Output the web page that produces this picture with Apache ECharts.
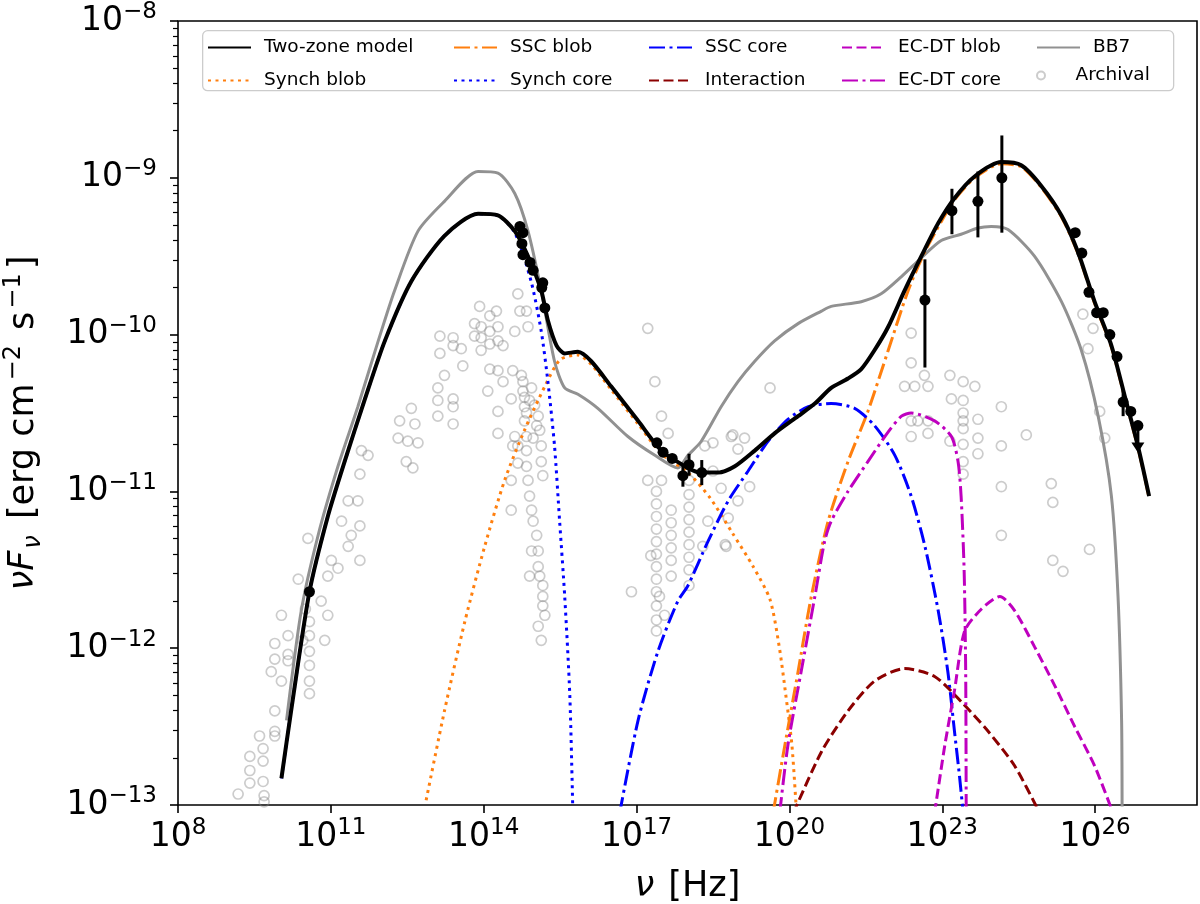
<!DOCTYPE html>
<html>
<head>
<meta charset="utf-8">
<script src="https://cdn.jsdelivr.net/npm/echarts@6/dist/echarts.min.js"></script>
<style>
html, body { margin: 0; padding: 0; background: #fff; }
#echart { width: 1200px; height: 904px; }
</style>
</head>
<body>
<div id="echart"></div>
<script>
// all values are [log10(nu / Hz), log10(nuFnu / erg cm^-2 s^-1)]
var twoZone = [[10.03,-12.83],[10.22,-12.40],[10.58,-11.64],[10.94,-11.16],[11.27,-10.81],[11.66,-10.42],[12.06,-10.04],[12.58,-9.66],[13.23,-9.37],[13.89,-9.23],[14.28,-9.24],[14.61,-9.34],[14.87,-9.50],[15.13,-9.72],[15.26,-9.91],[15.43,-10.07],[15.59,-10.12],[15.85,-10.11],[16.11,-10.17],[16.50,-10.33],[17.03,-10.55],[17.49,-10.74],[18.01,-10.85],[18.27,-10.88],[18.60,-10.88],[18.93,-10.84],[19.32,-10.74],[19.71,-10.63],[20.17,-10.52],[20.50,-10.44],[20.82,-10.34],[21.15,-10.28],[21.41,-10.22],[21.67,-10.10],[21.94,-9.95],[22.26,-9.72],[22.59,-9.50],[22.92,-9.29],[23.24,-9.13],[23.64,-8.99],[24.16,-8.90],[24.55,-8.92],[24.94,-9.05],[25.34,-9.24],[25.66,-9.47],[25.99,-9.79],[26.32,-10.07],[26.58,-10.39],[26.84,-10.71],[27.06,-11.03]];

var bb7 = [[10.13,-12.46],[10.42,-11.76],[10.75,-11.28],[11.14,-10.84],[11.53,-10.46],[11.93,-10.04],[12.25,-9.72],[12.71,-9.34],[13.23,-9.15],[13.89,-8.96],[14.28,-8.97],[14.61,-9.10],[14.87,-9.34],[15.13,-9.72],[15.39,-10.17],[15.59,-10.34],[15.85,-10.38],[16.24,-10.47],[16.83,-10.65],[17.36,-10.77],[17.81,-10.85],[18.01,-10.77],[18.27,-10.68],[18.66,-10.46],[18.99,-10.30],[19.32,-10.17],[19.71,-10.04],[20.17,-9.93],[20.63,-9.85],[20.82,-9.82],[21.41,-9.79],[21.80,-9.74],[22.20,-9.63],[22.59,-9.51],[22.98,-9.40],[23.37,-9.36],[23.70,-9.32],[23.96,-9.31],[24.29,-9.33],[24.81,-9.50],[25.34,-9.79],[25.73,-10.10],[26.06,-10.52],[26.32,-11.03],[26.45,-11.67],[26.52,-12.46],[26.53,-13.10]];

var synchBlob = [[12.87,-12.97],[13.23,-12.40],[13.63,-11.83],[14.02,-11.35],[14.41,-10.93],[14.80,-10.61],[15.20,-10.33],[15.50,-10.16],[15.85,-10.13],[16.11,-10.19],[16.50,-10.35],[17.03,-10.57],[17.49,-10.76],[18.01,-10.88],[18.44,-11.04],[18.89,-11.27],[19.29,-11.48],[19.62,-11.69],[19.80,-11.99],[19.93,-12.30],[20.05,-12.62],[20.14,-13.05]];

var synchCore = [[10.03,-12.83],[10.22,-12.40],[10.58,-11.64],[10.94,-11.16],[11.27,-10.81],[11.66,-10.42],[12.06,-10.04],[12.58,-9.66],[13.23,-9.37],[13.89,-9.23],[14.28,-9.24],[14.61,-9.35],[14.93,-9.66],[15.13,-9.98],[15.26,-10.30],[15.39,-10.71],[15.49,-11.19],[15.59,-11.67],[15.69,-12.30],[15.75,-13.05]];

var sscBlob = [[19.68,-13.05],[19.91,-12.62],[20.17,-12.15],[20.43,-11.67],[20.76,-11.19],[21.15,-10.81],[21.54,-10.49],[21.94,-10.10],[22.33,-9.72],[22.66,-9.47],[22.98,-9.28],[23.24,-9.14],[23.64,-9.00],[24.16,-8.91],[24.55,-8.93],[24.94,-9.06],[25.34,-9.25],[25.66,-9.48],[25.99,-9.80],[26.32,-10.08],[26.58,-10.40],[26.84,-10.72],[27.06,-11.04]];

var sscCore = [[16.67,-13.05],[17.03,-12.46],[17.42,-12.02],[17.81,-11.70],[18.01,-11.60],[18.40,-11.32],[18.80,-11.06],[19.19,-10.87],[19.58,-10.68],[19.97,-10.54],[20.37,-10.46],[20.82,-10.44],[21.28,-10.47],[21.67,-10.58],[22.07,-10.77],[22.39,-11.03],[22.66,-11.35],[22.92,-11.76],[23.11,-12.15],[23.24,-12.53],[23.34,-12.82],[23.41,-13.05]];

var interaction = [[20.08,-13.05],[20.63,-12.66],[21.15,-12.40],[21.67,-12.21],[22.26,-12.13],[22.85,-12.18],[23.37,-12.34],[23.90,-12.53],[24.42,-12.75],[24.91,-13.05]];

var ecdtBlob = [[22.85,-13.05],[23.05,-12.62],[23.24,-12.27],[23.44,-11.89],[23.77,-11.75],[24.13,-11.67],[24.42,-11.76],[24.81,-11.99],[25.21,-12.24],[25.60,-12.50],[25.99,-12.75],[26.35,-13.05]];

var ecdtCore = [[19.81,-13.05],[19.97,-12.62],[20.23,-12.15],[20.50,-11.67],[20.69,-11.32],[20.82,-11.19],[21.15,-11.00],[21.54,-10.81],[21.94,-10.62],[22.20,-10.52],[22.39,-10.50],[22.85,-10.55],[23.18,-10.65],[23.31,-10.81],[23.37,-11.03],[23.43,-11.51],[23.46,-12.15],[23.47,-13.05]];

var dataPoints = [[10.58,-11.64],[14.71,-9.31],[14.77,-9.35],[14.75,-9.42],[14.77,-9.49],[14.91,-9.54],[14.97,-9.59],[15.16,-9.67],[15.14,-9.70],[15.20,-9.83],[17.40,-10.69],[17.52,-10.75],[17.70,-10.79],[17.91,-10.90],[18.03,-10.83],[18.28,-10.88],[22.66,-9.78],[23.19,-9.21],[23.70,-9.15],[24.17,-9.00],[25.61,-9.35],[25.74,-9.48],[25.88,-9.73],[26.03,-9.86],[26.16,-9.86],[26.29,-10.00],[26.43,-10.14],[26.55,-10.43],[26.70,-10.49],[26.84,-10.58]];

// [logNu, logF low, logF high]
var yErrors = [[22.66,-10.21,-9.52],[23.19,-9.36,-9.07],[23.70,-9.38,-8.96],[24.17,-9.35,-8.73],[17.91,-10.97,-10.83],[18.03,-10.90,-10.76],[18.28,-10.96,-10.80],[26.55,-10.52,-10.35],[26.84,-10.72,-10.58]];
// [logF, logNu low, logNu high]
var xErrors = [[-10.90,17.84,17.98],[-10.83,17.96,18.10],[-10.88,18.20,18.36]];
var upperLimits = [[26.84,-10.72]];

var archival = [[9.18,-12.93],[9.41,-12.69],[9.41,-12.78],[9.41,-12.86],[9.60,-12.56],[9.67,-12.64],[9.67,-12.72],[9.67,-12.85],[9.69,-12.94],[9.69,-12.98],[9.90,-12.56],[9.90,-12.53],[9.90,-12.40],[9.83,-12.15],[9.90,-12.07],[9.90,-11.97],[10.03,-11.79],[10.03,-12.21],[10.16,-12.08],[10.16,-12.04],[10.16,-11.92],[10.36,-11.56],[10.55,-11.30],[10.58,-11.83],[10.58,-11.92],[10.58,-12.02],[10.58,-12.11],[10.58,-12.21],[10.58,-12.29],[10.50,-11.75],[10.45,-11.95],[10.88,-11.95],[10.81,-11.70],[10.94,-11.79],[10.94,-11.54],[11.01,-11.44],[11.14,-11.49],[11.34,-11.35],[11.40,-11.28],[11.57,-11.22],[11.57,-11.44],[11.21,-11.19],[11.34,-11.06],[11.53,-11.06],[11.57,-10.89],[11.73,-10.77],[11.60,-10.74],
[12.35,-10.55],[12.32,-10.66],[12.51,-10.68],[12.71,-10.69],[12.65,-10.57],[12.58,-10.47],[12.48,-10.81],[12.61,-10.85],[13.10,-10.52],[13.10,-10.42],[13.10,-10.34],[13.14,-10.01],[13.14,-10.12],[13.23,-10.26],[13.40,-10.02],[13.40,-10.07],[13.40,-10.46],[13.40,-10.41],[13.40,-10.57],[13.56,-10.09],[13.59,-10.20],[13.82,-9.93],[13.82,-10.01],[13.92,-9.82],[13.95,-9.95],[13.95,-10.02],[13.95,-10.10],[14.12,-9.88],[14.12,-9.98],[14.12,-10.06],[14.12,-10.22],[14.25,-9.85],[14.28,-9.95],[14.28,-10.04],[14.28,-10.23],[14.38,-10.30],[14.38,-10.07],[14.08,-10.36],[14.28,-10.49],[14.28,-10.63],[14.54,-10.41],[14.57,-10.23],[14.61,-9.98],[14.71,-9.85],[14.84,-9.85],[14.87,-9.95],[14.67,-9.74],[14.61,-10.65],[14.57,-10.71],
[14.74,-10.26],[14.77,-10.36],[14.80,-10.46],[14.80,-10.55],[14.84,-10.65],[14.84,-10.74],[14.84,-10.84],[14.87,-10.93],[14.90,-11.03],[14.94,-11.12],[15.07,-10.52],[15.10,-10.61],[15.13,-10.71],[15.13,-10.81],[15.16,-10.90],[14.97,-11.19],[15.04,-11.28],[15.07,-11.38],[15.07,-11.48],[15.10,-11.54],[15.16,-11.60],[15.16,-11.67],[15.16,-11.73],[15.20,-11.79],[15.13,-11.95],[14.54,-11.12],[14.54,-10.93],[14.67,-10.82],[14.67,-10.71],[14.90,-11.54],[14.94,-11.38],[15.07,-11.86],[14.77,-10.30],[14.80,-10.40],[14.84,-10.50],[14.90,-10.42],[14.94,-10.34],[15.00,-10.45],[15.04,-10.58],[14.97,-10.66],
[17.22,-9.96],[17.36,-10.30],[16.90,-11.64],[17.39,-11.00],[17.39,-11.08],[17.39,-11.16],[17.39,-11.24],[17.39,-11.32],[17.39,-11.40],[17.39,-11.48],[17.39,-11.56],[17.39,-11.64],[17.39,-11.73],[17.39,-11.82],[17.39,-11.89],[17.68,-11.12],[17.68,-11.20],[17.68,-11.28],[17.68,-11.36],[17.68,-11.44],[17.68,-11.54],[17.28,-11.41],[17.49,-10.93],[17.45,-11.67],[17.55,-11.79],[18.03,-10.93],[18.03,-11.02],[18.03,-11.10],[18.03,-11.18],[18.03,-11.26],[18.03,-11.34],[18.03,-11.42],[18.03,-11.50],[18.03,-11.60],[17.22,-10.93],[18.74,-11.34],[17.49,-10.52],[17.62,-10.63],
[18.34,-10.71],[18.50,-10.87],[18.66,-10.98],[18.86,-10.65],[18.99,-10.73],[19.12,-10.66],[18.80,-11.17],[18.99,-11.06],[19.22,-10.97],[18.76,-11.35],[19.62,-10.34],[18.30,-11.35],[18.40,-11.19],[18.50,-10.69],[18.89,-10.64],
[22.39,-9.99],[22.39,-10.18],[22.65,-10.26],[22.26,-10.33],[22.46,-10.33],[22.72,-10.33],[23.15,-10.26],[23.41,-10.30],[23.64,-10.33],[23.18,-10.41],[23.41,-10.42],[23.41,-10.50],[23.41,-10.55],[23.41,-10.60],[23.41,-10.70],[23.41,-10.81],[23.41,-10.89],[23.70,-10.54],[23.70,-10.66],[23.70,-10.76],[24.16,-10.46],[24.16,-10.71],[24.16,-10.97],[24.16,-11.28],[24.65,-10.64],[25.14,-10.95],[25.17,-11.07],[25.17,-11.44],[25.37,-11.51],[25.89,-11.37],[25.76,-9.87],[25.96,-9.96],[25.86,-10.09],[26.09,-10.49],[26.19,-10.66],[22.39,-10.55],[22.72,-10.55],[22.39,-10.65],[22.72,-10.63],[23.15,-10.68],[22.52,-10.55]];

var xTicks = [8, 11, 14, 17, 20, 23, 26];
var yMinorTicks = [];
for (var n = -13; n < -8; n++) {
  for (var k = 2; k < 10; k++) yMinorTicks.push(n + Math.log10(k));
}

var FONT = 'DejaVu Sans';
var myChart = echarts.init(document.getElementById('echart'));

function powLabel(v) {
  var e = Math.round(v);
  return '{b|10}{s|' + (e < 0 ? '\u2212' + (-e) : e) + '}';
}
var tickRich = {
  b: { fontFamily: FONT, fontSize: 33, lineHeight: 40, color: '#000' },
  s: { fontFamily: FONT, fontSize: 23, lineHeight: 18, verticalAlign: 'top', color: '#000' }
};

function curve(name, data, color, width, dash, z) {
  return {
    name: name, type: 'line', data: data, symbol: 'none', showSymbol: false,
    smooth: 0.25, z: z || 3, clip: true,
    lineStyle: { color: color, width: width, type: dash, cap: 'butt' },
    itemStyle: { color: color }
  };
}

function legendCol(names, left, top, extra) {
  var o = {
    orient: 'vertical', left: left, top: top, padding: 0,
    itemWidth: 43, itemHeight: 14, itemGap: 14,
    data: names, selectedMode: false, z: 20,
    itemStyle: { opacity: 0 },
    textStyle: { fontFamily: FONT, fontSize: 18.5, color: '#000', lineHeight: 14, padding: [0, 0, 0, 8] }
  };
  for (var key in extra) o[key] = extra[key];
  return o;
}

var DOT = [3, 4.5], DASH = [10, 4.5], DASHDOT = [16, 4.5, 3, 4.5];

option = {
  animation: false,
  backgroundColor: '#fff',
  grid: { left: 178, right: 3, top: 21, bottom: 99, containLabel: false, outerBoundsMode: 'none',
    show: true, borderColor: '#000', borderWidth: 1.6 },
  xAxis: {
    type: 'value', min: 8, max: 28,
    axisLine: { show: false },
    splitLine: { show: false },
    axisTick: { customValues: xTicks, length: 8, lineStyle: { color: '#000', width: 1.6 } },
    axisLabel: { customValues: xTicks, formatter: powLabel, rich: tickRich, margin: 12 },
    name: '{i|\u03bd} [Hz]', nameLocation: 'middle', nameGap: 62,
    nameTextStyle: { fontFamily: FONT, fontSize: 35, color: '#000', lineHeight: 40,
      rich: { i: { fontFamily: FONT, fontStyle: 'italic', fontSize: 35, lineHeight: 40, color: '#000', padding: [0, 3, 0, 0] } } }
  },
  yAxis: [{
    type: 'value', min: -13, max: -8, interval: 1,
    axisLine: { show: false },
    splitLine: { show: false },
    axisTick: { length: 8, lineStyle: { color: '#000', width: 1.6 } },
    axisLabel: { formatter: powLabel, rich: tickRich, margin: 21 },
    name: '{i|\u03bdF}{sub|\u03bd} [erg cm{sup|\u22122} s{sup|\u22121}]',
    nameLocation: 'middle', nameGap: 132, nameRotate: 90,
    nameTextStyle: { fontFamily: FONT, fontSize: 35, color: '#000', lineHeight: 44, padding: [0, 20, 0, 0],
      rich: {
        i: { fontFamily: FONT, fontStyle: 'italic', fontSize: 35, lineHeight: 44, color: '#000' },
        sub: { fontFamily: FONT, fontStyle: 'italic', fontSize: 24, lineHeight: 26, verticalAlign: 'bottom', color: '#000', padding: [0, 5, 0, 2] },
        sup: { fontFamily: FONT, fontSize: 24, lineHeight: 20, verticalAlign: 'top', color: '#000', padding: [0, 4, 0, 3] }
      } }
  }, {
    type: 'value', min: -13, max: -8, position: 'left', offset: 0,
    axisLine: { show: false }, splitLine: { show: false },
    axisLabel: { show: false },
    axisTick: { customValues: yMinorTicks, length: 5, lineStyle: { color: '#000', width: 1.2 } }
  }],
  graphic: [{
    type: 'rect', z: 15, left: 202, top: 30,
    shape: { width: 971, height: 60, r: 5 },
    style: { fill: 'rgba(255,255,255,0.8)', stroke: '#cccccc', lineWidth: 1.3 }
  }],
  legend: [
    legendCol(['Two-zone model', 'Synch blob'], 207, 38),
    legendCol(['SSC blob', 'Synch core'], 453, 38),
    legendCol(['SSC core', 'Interaction'], 648, 38),
    legendCol(['EC-DT blob', 'EC-DT core'], 841, 38),
    legendCol(['BB7'], 1036, 38),
    legendCol([{ name: 'Archival', icon: 'circle' }], 1036, 66, { itemHeight: 8, itemStyle: {} })
  ],
  series: [
    {
      name: 'Archival', type: 'scatter', data: archival, symbol: 'circle', symbolSize: 10, z: 1,
      itemStyle: { opacity: 1, color: 'rgba(255,255,255,0)', borderColor: 'rgba(128,128,128,0.4)', borderWidth: 1.7 }
    },
    curve('BB7', bb7, '#919191', 3, 'solid', 2),
    curve('Synch blob', synchBlob, '#ff7f0e', 3, DOT),
    curve('SSC blob', sscBlob, '#ff7f0e', 3, DASHDOT),
    curve('Synch core', synchCore, '#0000ff', 3, DOT),
    curve('SSC core', sscCore, '#0000ff', 3, DASHDOT),
    curve('Interaction', interaction, '#8b0000', 3, DASH),
    curve('EC-DT blob', ecdtBlob, '#bf00bf', 3, DASH),
    curve('EC-DT core', ecdtCore, '#bf00bf', 3, DASHDOT),
    curve('Two-zone model', twoZone, '#000000', 4, 'solid', 5),
    {
      type: 'custom', z: 6, data: yErrors, encode: { x: 0, y: [1, 2] },
      renderItem: function (params, api) {
        var p1 = api.coord([api.value(0), api.value(1)]);
        var p2 = api.coord([api.value(0), api.value(2)]);
        return { type: 'line', shape: { x1: p1[0], y1: p1[1], x2: p2[0], y2: p2[1] },
          style: { stroke: '#000', lineWidth: 3 } };
      }
    },
    {
      type: 'custom', z: 6, data: xErrors, encode: { x: [1, 2], y: 0 },
      renderItem: function (params, api) {
        var p1 = api.coord([api.value(1), api.value(0)]);
        var p2 = api.coord([api.value(2), api.value(0)]);
        return { type: 'line', shape: { x1: p1[0], y1: p1[1], x2: p2[0], y2: p2[1] },
          style: { stroke: '#000', lineWidth: 3 } };
      }
    },
    { type: 'scatter', z: 7, data: dataPoints, symbol: 'circle', symbolSize: 11, itemStyle: { color: '#000', opacity: 1 } },
    { type: 'scatter', z: 7, data: upperLimits, symbol: 'triangle', symbolRotate: 180, symbolSize: [13, 10], itemStyle: { color: '#000', opacity: 1 } }
  ]
};

myChart.setOption(option);
</script>
</body>
</html>
